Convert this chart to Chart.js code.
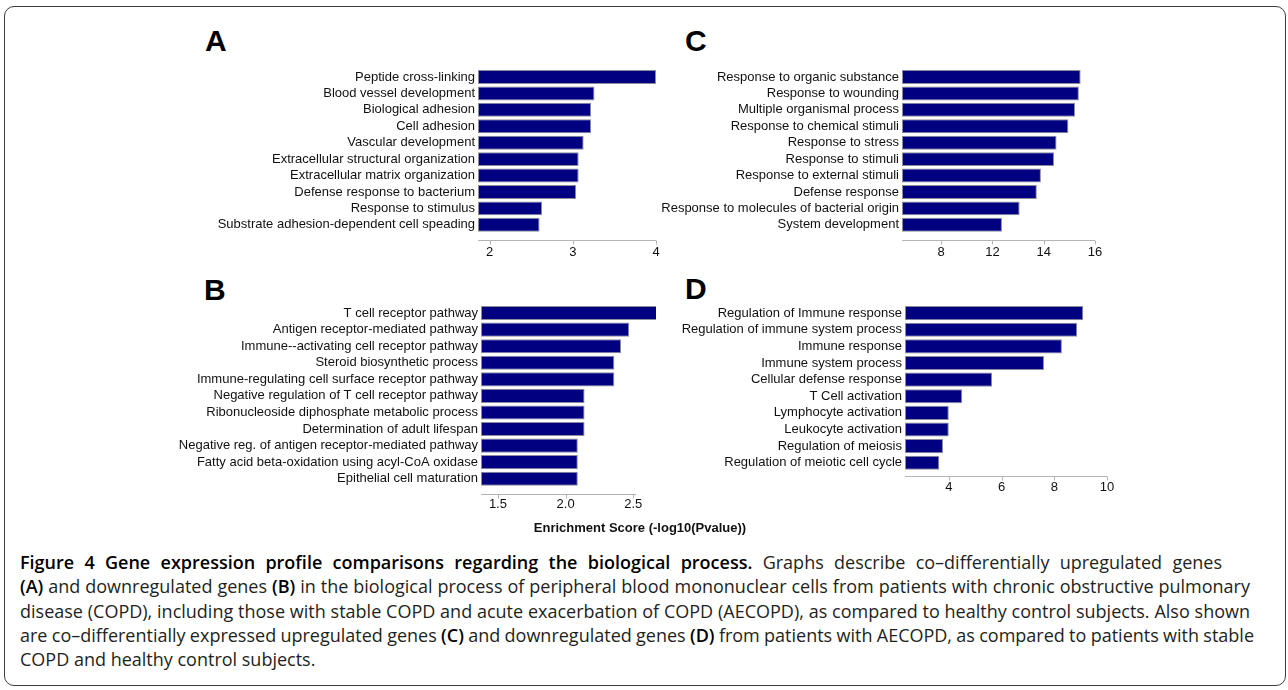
<!DOCTYPE html>
<html lang="en">
<head>
<meta charset="UTF-8" />
<title>Figure 4 - biological process</title>
<style>
  body {
    margin: 0;
    width: 1288px;
    height: 690px;
    background: #fff;
    position: relative;
    overflow: hidden;
    font-family: 'Liberation Sans', Arial, sans-serif;
  }
  .frame {
    position: absolute;
    left: 4px; top: 6px;
    width: 1280px; height: 678px;
    border: 1.5px solid #3c3c3c;
    border-radius: 10px;
  }
  .panel-letter {
    position: absolute;
    font: bold 30px/30px 'Liberation Sans', Arial, sans-serif;
    color: #000;
  }
  canvas { position: absolute; }
  .xtitle {
    position: absolute;
    left: 440px; width: 400px; top: 520px;
    text-align: center;
    font: bold 13px/16px 'Liberation Sans', Arial, sans-serif;
    color: #111;
  }
  .caption {
    position: absolute;
    left: 20px; top: 550px;
    font-family: 'Open Sans', 'Noto Sans', sans-serif;
    font-size: 18px;
    line-height: 24.3px;
    color: #231f20;
    white-space: nowrap;
  }
  .caption div { display: table; }
  .caption b { color: #000; font-weight: 600; }
</style>
</head>
<body>

<div class="frame"></div>

<div class="panel-letter" style="left:205px; top:26px;">A</div>
<div class="panel-letter" style="left:685px; top:26px;">C</div>
<div class="panel-letter" style="left:204px; top:275px;">B</div>
<div class="panel-letter" style="left:685px; top:274px;">D</div>

<canvas id="chartA"></canvas>
<canvas id="chartB"></canvas>
<canvas id="chartC"></canvas>
<canvas id="chartD"></canvas>

<div class="xtitle">Enrichment Score (-log10(Pvalue))</div>

<div class="caption" id="caption">
  <div><b>Figure 4 Gene expression profile comparisons regarding the biological process.</b> Graphs describe co–differentially upregulated genes</div>
  <div><b>(A)</b> and downregulated genes <b>(B)</b> in the biological process of peripheral blood mononuclear cells from patients with chronic obstructive pulmonary</div>
  <div>disease (COPD), including those with stable COPD and acute exacerbation of COPD (AECOPD), as compared to healthy control subjects. Also shown</div>
  <div>are co–differentially expressed upregulated genes <b>(C)</b> and downregulated genes <b>(D)</b> from patients with AECOPD, as compared to patients with stable</div>
  <div>COPD and healthy control subjects.</div>
</div>

<script src="https://cdn.jsdelivr.net/npm/chart.js"></script>
<script>
  // ---- data ----
  const labelsA = [
    'Peptide cross-linking', 'Blood vessel development', 'Biological adhesion', 'Cell adhesion',
    'Vascular development', 'Extracellular structural organization', 'Extracellular matrix organization',
    'Defense response to bacterium', 'Response to stimulus', 'Substrate adhesion-dependent cell speading'
  ];
  const valuesA = [4.00, 3.26, 3.22, 3.22, 3.13, 3.07, 3.07, 3.04, 2.63, 2.60];
  const ticksA = [2, 3, 4];
  const tickLabelsA = ['2', '3', '4'];

  const labelsB = [
    'T cell receptor pathway', 'Antigen receptor-mediated pathway', 'Immune--activating cell receptor pathway',
    'Steroid biosynthetic process', 'Immune-regulating cell surface receptor pathway',
    'Negative regulation of T cell receptor pathway', 'Ribonucleoside diphosphate metabolic process',
    'Determination of adult lifespan', 'Negative reg. of antigen receptor-mediated pathway',
    'Fatty acid beta-oxidation using acyl-CoA oxidase', 'Epithelial cell maturation'
  ];
  const valuesB = [2.68, 2.47, 2.41, 2.36, 2.36, 2.14, 2.14, 2.14, 2.09, 2.09, 2.09];
  const ticksB = [1.5, 2.0, 2.5];
  const tickLabelsB = ['1.5', '2.0', '2.5'];

  const labelsC = [
    'Response to organic substance', 'Response to wounding', 'Multiple organismal process',
    'Response to chemical stimuli', 'Response to stress', 'Response to stimuli',
    'Response to external stimuli', 'Defense response', 'Response to molecules of bacterial origin',
    'System development'
  ];
  const valuesC = [15.44, 15.37, 15.22, 14.96, 14.50, 14.40, 13.89, 13.73, 13.06, 12.37];
  const ticksC = [10, 12, 14, 16];
  const tickLabelsC = ['8', '12', '14', '16'];   // first label printed as "8" in the figure

  const labelsD = [
    'Regulation of Immune response', 'Regulation of immune system process', 'Immune response',
    'Immune system process', 'Cellular defense response', 'T Cell activation', 'Lymphocyte activation',
    'Leukocyte activation', 'Regulation of meiosis', 'Regulation of meiotic cell cycle'
  ];
  const valuesD = [9.10, 8.87, 8.29, 7.61, 5.64, 4.51, 4.00, 4.00, 3.78, 3.64];
  const ticksD = [4, 6, 8, 10];
  const tickLabelsD = ['4', '6', '8', '10'];

  // ---- layout of each panel (plot box in page pixels) ----
  const PAD_TOP = 10, PAD_RIGHT = 20, X_AXIS_H = 34;

  // axis line drawn a few px under the bars, like the original
  const axisLine = {
    id: 'axisLine',
    afterDraw(chart, args, opts) {
      const xs = chart.scales.x;
      const ctx = chart.ctx;
      const y = chart.chartArea.bottom + opts.gap + 0.5;
      ctx.save();
      ctx.strokeStyle = '#b4b4b4';
      ctx.lineWidth = 1;
      ctx.beginPath();
      ctx.moveTo(xs.left, y);
      ctx.lineTo(xs.right, y);
      xs.ticks.forEach(t => {
        const px = Math.round(xs.getPixelForValue(t.value)) + 0.5;
        ctx.moveTo(px, y);
        ctx.lineTo(px, y + 4);
      });
      ctx.stroke();
      ctx.restore();
    }
  };

  function makePanel(id, box, labels, values, ticks, tickLabels) {
    const canvas = document.getElementById(id);
    const w = box.yw + (box.right - box.left) + PAD_RIGHT;
    const h = PAD_TOP + (box.bottom - box.top) + X_AXIS_H;
    canvas.width = w;
    canvas.height = h;
    canvas.style.width = w + 'px';
    canvas.style.height = h + 'px';
    canvas.style.left = (box.left - box.yw) + 'px';
    canvas.style.top = (box.top - PAD_TOP) + 'px';

    const font = { family: "'Liberation Sans', Arial, sans-serif", size: 13 };

    new Chart(canvas, {
      type: 'bar',
      data: {
        labels: labels,
        datasets: [{
          data: values,
          base: box.min,
          backgroundColor: '#000080',
          borderColor: '#8c8c9c',
          borderWidth: 1,
          borderSkipped: false,
          categoryPercentage: 1,
          barPercentage: 0.85,
          clip: false
        }]
      },
      options: {
        indexAxis: 'y',
        responsive: false,
        animation: false,
        layout: { padding: { top: PAD_TOP, right: PAD_RIGHT, bottom: 0, left: 0 } },
        plugins: {
          legend: { display: false },
          tooltip: { enabled: false },
          axisLine: { gap: box.gap }
        },
        scales: {
          x: {
            type: 'linear',
            min: box.min,
            max: box.max,
            afterBuildTicks: s => { s.ticks = ticks.map(v => ({ value: v })); },
            afterFit: s => { s.height = X_AXIS_H; },
            ticks: {
              font: font,
              color: '#111',
              padding: box.tickPad,
              maxRotation: 0,
              autoSkip: false,
              callback: (v, i) => tickLabels[i]
            },
            grid: { display: false, drawTicks: false },
            border: { display: false }
          },
          y: {
            afterFit: s => { s.width = box.yw; },
            ticks: { font: font, color: '#111', padding: 3, autoSkip: false },
            grid: { display: false, drawTicks: false },
            border: { display: false }
          }
        }
      },
      plugins: [axisLine]
    });
  }

  makePanel('chartA', { left: 478, right: 656, top: 68, bottom: 233, yw: 330, min: 1.86, max: 4.0, gap: 7, tickPad: 12 },
    labelsA, valuesA, ticksA, tickLabelsA);
  makePanel('chartB', { left: 481, right: 636, top: 304, bottom: 487, yw: 330, min: 1.375, max: 2.52, gap: 7, tickPad: 10 },
    labelsB, valuesB, ticksB, tickLabelsB);
  makePanel('chartC', { left: 902, right: 1095, top: 68, bottom: 233, yw: 260, min: 8.47, max: 16, gap: 7, tickPad: 12 },
    labelsC, valuesC, ticksC, tickLabelsC);
  makePanel('chartD', { left: 905, right: 1107, top: 304, bottom: 471, yw: 260, min: 2.34, max: 10, gap: 5, tickPad: 9 },
    labelsD, valuesD, ticksD, tickLabelsD);

  // caption lines are set justified in the original: nudge word gaps to the printed right edges
  const captionRight = [1222, 1250, 1250, 1254, null];
  document.querySelectorAll('#caption > div').forEach((line, i) => {
    if (!captionRight[i]) return;
    const spaces = (line.textContent.trim().match(/ /g) || []).length;
    const extra = captionRight[i] - line.getBoundingClientRect().right;
    line.style.wordSpacing = (extra / spaces) + 'px';
  });
</script>
</body>
</html>
